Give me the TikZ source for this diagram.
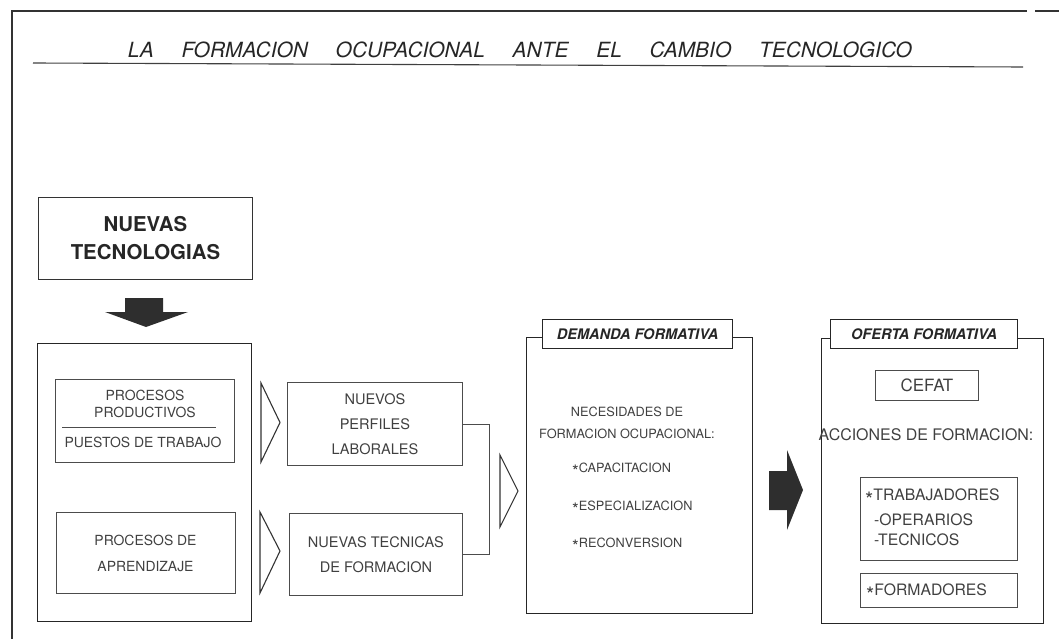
\documentclass[tikz,border=0pt]{standalone}
\usepackage{fontspec}
\setmainfont{TeX Gyre Heros}
\usetikzlibrary{calc}
\newcommand{\fsz}[2]{\fontsize{#1}{#2}\selectfont}
\newcommand{\lowstar}{\smash{\raisebox{-0.4em}{\scalebox{1.35}{*}}}}
\begin{document}
\begin{tikzpicture}[x=1bp,y=-1bp,
  frame/.style={draw=black!80, line width=1.3bp},
  box/.style={draw=black!70, line width=0.9bp, inner sep=0pt, anchor=north west},
  bigbox/.style={draw=black!85, line width=1.4bp, inner sep=0pt, anchor=north west},
  hdr/.style={draw=black!85, line width=1.2bp, fill=white, inner sep=0pt, anchor=north west,
              font=\bfseries\itshape\fsz{14.6}{16}, text=black!85},
  txt/.style={text=black!75, inner sep=0pt, align=center},
  openarrow/.style={draw=black!80, line width=1.1bp, fill=white, line join=miter},
  darkarrow/.style={fill=black!82, draw=none}]
\useasboundingbox (0,0) rectangle (1059,639);

% frame and title
\draw[frame] (12,639) -- (12,11) -- (1027,11);
\draw[frame] (1035,11) -- (1059,11);
\node[inner sep=0pt, text=black!85, font=\itshape\fsz{21}{21}] (title) at (520,50)
  {\makebox[784bp]{LA\hfill FORMACION\hfill OCUPACIONAL\hfill ANTE\hfill EL\hfill CAMBIO\hfill TECNOLOGICO}};
\draw[line width=1.1bp, black!75] (33,63) -- (1023,67);

% nuevas tecnologias
\node[box, draw=black!80, minimum width=214bp, minimum height=82bp, align=center,
      text=black!85, font=\bfseries\fsz{20.5}{28}] (nt) at (38,197) {NUEVAS\\TECNOLOGIAS};
\fill[darkarrow] (125,298) -- (163,298) -- (163,312) -- (188,312) -- (146,327) -- (105,312) -- (125,312) -- cycle;

% left big box
\node[bigbox, minimum width=214bp, minimum height=278bp] (lbig) at (37,343) {};
\node[box, minimum width=179bp, minimum height=83bp] (pp) at (55,379) {};
\node[txt, font=\fsz{14}{17}] (pp1) at (145,403.5) {PROCESOS\\PRODUCTIVOS};
\draw[black!70, line width=0.9bp] (62,427) -- (216,427);
\node[txt, font=\fsz{14}{17}] (pp2) at (143,442) {PUESTOS DE TRABAJO};
\node[box, minimum width=179bp, minimum height=81bp] (pa) at (56,512) {};
\node[txt, font=\fsz{14}{26}] (pa1) at (145.5,553) {PROCESOS DE\\APRENDIZAJE};

% open arrows
\draw[openarrow] (261,383) -- (280,422.5) -- (261,462) -- cycle;
\draw[openarrow] (260,512) -- (280,551) -- (260,593) -- cycle;

% middle boxes
\node[box, minimum width=175bp, minimum height=83bp, txt, font=\fsz{14.6}{25}] (npl) at (287,382) {NUEVOS\\PERFILES\\LABORALES};
\node[box, minimum width=173bp, minimum height=82bp, txt, font=\fsz{14.6}{25}] (ntf) at (289,513) {NUEVAS TECNICAS\\DE FORMACION};
\draw[black!70, line width=0.9bp] (npl.east) -- ++(27,0) |- (ntf.east);
\draw[openarrow] (500,455) -- (518,491) -- (500,527) -- cycle;

% demanda formativa
\node[bigbox, minimum width=226bp, minimum height=276bp] (dem) at (526,337) {};
\node[hdr, minimum width=190bp, minimum height=29bp] (demh) at (542,319) {DEMANDA FORMATIVA};
\node[txt, font=\fsz{12.8}{22}] (nec) at (627,423) {NECESIDADES DE\\FORMACION OCUPACIONAL:};
\node[txt, anchor=west, font=\fsz{12.8}{14}] (cap) at (572,468) {\lowstar CAPACITACION};
\node[txt, anchor=west, font=\fsz{12.8}{14}] (esp) at (572,506) {\lowstar ESPECIALIZACION};
\node[txt, anchor=west, font=\fsz{12.8}{14}] (rec) at (572,543) {\lowstar RECONVERSION};

% dark arrow
\fill[darkarrow] (769,471) -- (787,471) -- (787,450) -- (803,490) -- (787,530) -- (787,510) -- (769,510) -- cycle;

% oferta formativa
\node[bigbox, minimum width=222bp, minimum height=285bp] (ofe) at (821,338) {};
\node[hdr, minimum width=187bp, minimum height=29bp] (ofeh) at (830,319) {OFERTA FORMATIVA};
\node[box, minimum width=103bp, minimum height=30bp, txt, font=\fsz{17}{17}] (cefat) at (875,370) {CEFAT};
\node[txt, font=\fsz{16}{16}] (acc) at (926,435) {ACCIONES DE FORMACION:};
\node[box, minimum width=157bp, minimum height=83bp] (trabbox) at (860,477) {};
\node[txt, anchor=west, font=\fsz{15.8}{16}] (trab) at (865,495) {\lowstar TRABAJADORES};
\node[txt, anchor=west, font=\fsz{15.8}{16}] (oper) at (874,520) {-OPERARIOS};
\node[txt, anchor=west, font=\fsz{15.8}{16}] (tecn) at (874,540) {-TECNICOS};
\node[box, minimum width=157bp, minimum height=34bp] (formbox) at (860,573) {};
\node[txt, anchor=west, font=\fsz{15.8}{16}] (form) at (866,590) {\lowstar FORMADORES};
\end{tikzpicture}
\end{document}
